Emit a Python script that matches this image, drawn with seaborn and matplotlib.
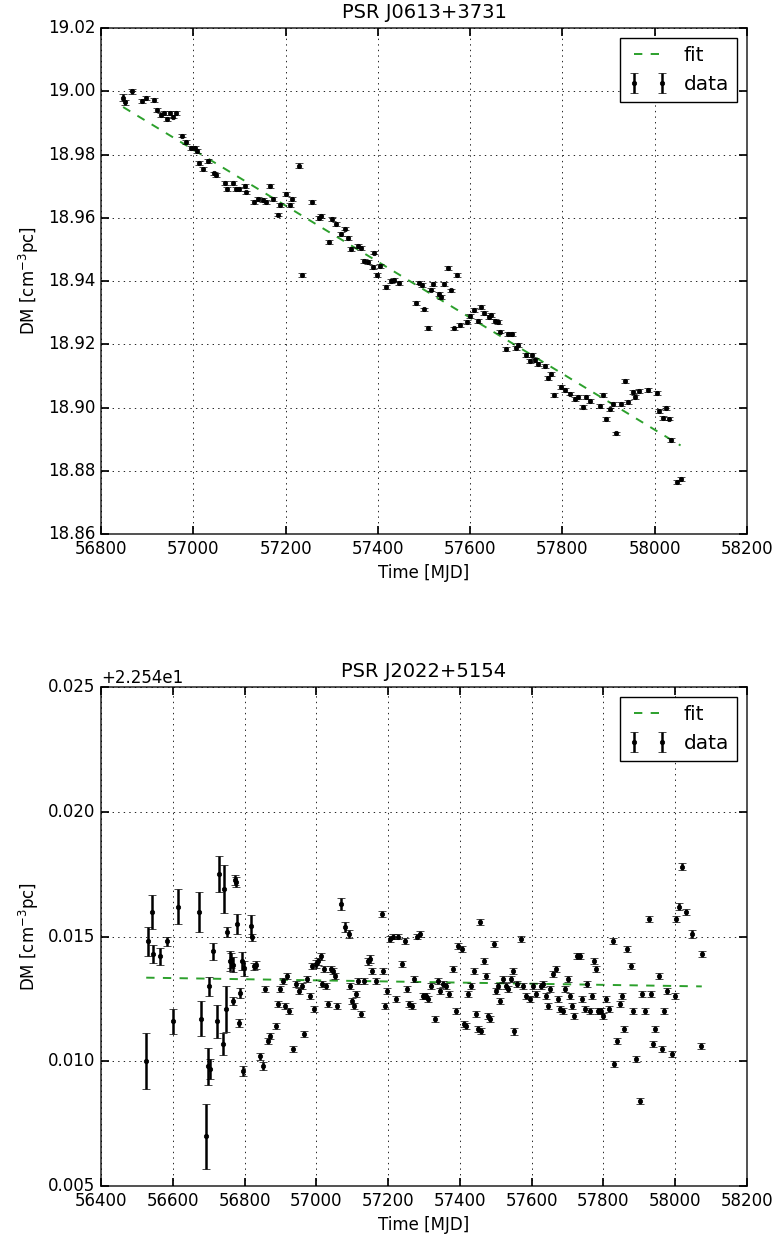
import matplotlib
matplotlib.use('Agg')
import matplotlib.pyplot as plt
import seaborn as sns

# ---------------- PSR J0613+3731 ----------------
top_title = "PSR J0613+3731"
top_mjd = [56848, 56852, 56868, 56888, 56898, 56915, 56922, 56930, 56937, 56944,
           56950, 56956, 56962, 56975, 56985, 56994, 57003, 57008, 57012, 57021,
           57031, 57045, 57050, 57069, 57074, 57085, 57093, 57100, 57111, 57115,
           57131, 57140, 57151, 57158, 57166, 57173, 57184, 57188, 57200, 57209,
           57215, 57230, 57236, 57258, 57272, 57277, 57294, 57301, 57310, 57321,
           57328, 57335, 57342, 57357, 57364, 57369, 57378, 57389, 57391, 57398,
           57404, 57418, 57429, 57436, 57445, 57482, 57489, 57496, 57501, 57508,
           57515, 57520, 57532, 57537, 57544, 57552, 57559, 57564, 57572, 57578,
           57593, 57600, 57609, 57616, 57623, 57629, 57640, 57645, 57654, 57661,
           57665, 57678, 57683, 57690, 57700, 57704, 57722, 57729, 57733, 57740,
           57747, 57762, 57769, 57776, 57781, 57796, 57805, 57817, 57827, 57834,
           57845, 57852, 57859, 57882, 57889, 57895, 57903, 57909, 57916, 57928,
           57936, 57943, 57952, 57958, 57966, 57985, 58004, 58009, 58017, 58024,
           58031, 58036, 58049, 58056]
top_dm = [18.9980, 18.9965, 19.0000, 18.9970, 18.9978, 18.9972, 18.9940, 18.9925, 18.9932, 18.9912,
          18.9930, 18.9920, 18.9930, 18.9860, 18.9840, 18.9820, 18.9822, 18.9810, 18.9773, 18.9755,
          18.9780, 18.9740, 18.9736, 18.9710, 18.9690, 18.9710, 18.9690, 18.9690, 18.9700, 18.9680,
          18.9650, 18.9660, 18.9656, 18.9650, 18.9700, 18.9660, 18.9610, 18.9640, 18.9676, 18.9640,
          18.9660, 18.9764, 18.9420, 18.9650, 18.9598, 18.9605, 18.9523, 18.9596, 18.9579, 18.9548,
          18.9566, 18.9537, 18.9500, 18.9510, 18.9505, 18.9464, 18.9460, 18.9445, 18.9490, 18.9420,
          18.9448, 18.9380, 18.9400, 18.9402, 18.9394, 18.9330, 18.9395, 18.9387, 18.9310, 18.9252,
          18.9373, 18.9390, 18.9360, 18.9349, 18.9390, 18.9440, 18.9370, 18.9250, 18.9420, 18.9260,
          18.9270, 18.9290, 18.9308, 18.9274, 18.9319, 18.9300, 18.9287, 18.9293, 18.9274, 18.9270,
          18.9240, 18.9186, 18.9233, 18.9233, 18.9188, 18.9197, 18.9167, 18.9148, 18.9165, 18.9150,
          18.9137, 18.9130, 18.9094, 18.9105, 18.9040, 18.9065, 18.9055, 18.9044, 18.9028, 18.9033,
          18.9001, 18.9033, 18.9020, 18.9005, 18.9040, 18.8964, 18.8994, 18.9010, 18.8918, 18.9010,
          18.9084, 18.9018, 18.9050, 18.9033, 18.9053, 18.9055, 18.9045, 18.8989, 18.8967, 18.8999,
          18.8965, 18.8897, 18.8765, 18.8774]
top_err = [0.0012, 0.0008, 0.0008, 0.0006, 0.0006, 0.0006, 0.0006, 0.0006, 0.0006, 0.0006,
           0.0006, 0.0006, 0.0006, 0.0006, 0.0006, 0.0006, 0.0006, 0.0006, 0.0006, 0.0006,
           0.0006, 0.0006, 0.0006, 0.0006, 0.0006, 0.0006, 0.0006, 0.0006, 0.0006, 0.0006,
           0.0006, 0.0006, 0.0006, 0.0006, 0.0006, 0.0006, 0.0006, 0.0006, 0.0006, 0.0006,
           0.0006, 0.0008, 0.0006, 0.0006, 0.0006, 0.0006, 0.0006, 0.0006, 0.0006, 0.0006,
           0.0006, 0.0006, 0.0006, 0.0006, 0.0006, 0.0006, 0.0006, 0.0006, 0.0006, 0.0006,
           0.0006, 0.0006, 0.0006, 0.0006, 0.0006, 0.0006, 0.0006, 0.0006, 0.0006, 0.0006,
           0.0006, 0.0006, 0.0006, 0.0006, 0.0006, 0.0006, 0.0006, 0.0006, 0.0006, 0.0006,
           0.0006, 0.0006, 0.0006, 0.0006, 0.0006, 0.0006, 0.0006, 0.0006, 0.0006, 0.0006,
           0.0006, 0.0006, 0.0006, 0.0006, 0.0006, 0.0006, 0.0006, 0.0006, 0.0006, 0.0006,
           0.0006, 0.0006, 0.0006, 0.0006, 0.0006, 0.0006, 0.0006, 0.0006, 0.0006, 0.0006,
           0.0006, 0.0006, 0.0006, 0.0006, 0.0006, 0.0006, 0.0006, 0.0006, 0.0006, 0.0006,
           0.0006, 0.0006, 0.0006, 0.0006, 0.0006, 0.0006, 0.0006, 0.0006, 0.0006, 0.0006,
           0.0006, 0.0006, 0.0006, 0.0006]
top_fit_mjd = [56848, 58056]
top_fit_dm = [18.9950, 18.8880]
top_xticks = [56800, 57000, 57200, 57400, 57600, 57800, 58000, 58200]
top_yticks = [18.86, 18.88, 18.90, 18.92, 18.94, 18.96, 18.98, 19.00, 19.02]

# ---------------- PSR J2022+5154 ----------------
bot_title = "PSR J2022+5154"
bot_offset = 22.54
bot_mjd = [56526, 56531, 56542, 56544, 56565, 56583, 56600, 56615, 56672, 56679,
           56693, 56697, 56700, 56704, 56713, 56723, 56730, 56739, 56744, 56748,
           56750, 56759, 56762, 56767, 56769, 56772, 56776, 56780, 56785, 56787,
           56794, 56797, 56799, 56818, 56822, 56827, 56831, 56843, 56852, 56857,
           56864, 56870, 56889, 56892,
           56900, 56906, 56912, 56918, 56925, 56935, 56944, 56952, 56960, 56966,
           56975, 56982, 56988, 56994, 57000, 57006, 57012, 57016, 57022, 57028,
           57033, 57040, 57046, 57052, 57058, 57070, 57080, 57090, 57094, 57100,
           57105, 57110, 57116, 57125, 57132, 57145, 57150, 57155, 57165, 57182,
           57186, 57190, 57198, 57205, 57214, 57222, 57228, 57240, 57246, 57252,
           57258, 57266, 57272, 57280, 57290, 57296, 57305, 57312, 57320, 57330,
           57338, 57345, 57352, 57360, 57370, 57380, 57388, 57396, 57405, 57412,
           57416, 57422, 57430, 57440, 57445, 57450, 57456, 57460, 57466, 57474,
           57478, 57485, 57495, 57500, 57505, 57512, 57520, 57528, 57535, 57542,
           57548, 57552, 57560, 57570, 57575, 57585, 57595, 57605, 57612, 57625,
           57632, 57640, 57646, 57652, 57660, 57668, 57673, 57680, 57686, 57692,
           57700, 57706, 57712, 57718, 57726, 57734, 57740, 57748, 57755, 57762,
           57768, 57773, 57778, 57785, 57792, 57800, 57808, 57815, 57826, 57829,
           57837, 57845, 57852, 57858, 57865, 57876, 57883, 57890, 57901, 57908,
           57915, 57926, 57932, 57938, 57945, 57954, 57963, 57970, 57978, 57990,
           57999, 58002, 58010, 58018, 58030, 58046, 58071, 58074]
bot_dm = [0.01000, 0.01480, 0.01600, 0.01430, 0.01420, 0.01480, 0.01160, 0.01620, 0.01600, 0.01170,
          0.00700, 0.00980, 0.01300, 0.00970, 0.01440, 0.01160, 0.01750, 0.01070, 0.01690, 0.01210,
          0.01520, 0.01400, 0.01404, 0.01240, 0.01387, 0.01727, 0.01720, 0.01550, 0.01153, 0.01273,
          0.01400, 0.00960, 0.01373, 0.01543, 0.01497, 0.01380, 0.01387, 0.01020, 0.00980, 0.01290,
          0.01080, 0.01100, 0.01143, 0.01230,
          0.01290, 0.01320, 0.01220, 0.01340, 0.01200, 0.01050, 0.01310, 0.01280, 0.01300, 0.01110,
          0.01330, 0.01260, 0.01380, 0.01210, 0.01390, 0.01400, 0.01420, 0.01310, 0.01370, 0.01300,
          0.01230, 0.01370, 0.01360, 0.01340, 0.01220, 0.01630, 0.01540, 0.01510, 0.01300, 0.01240,
          0.01220, 0.01270, 0.01320, 0.01190, 0.01320, 0.01400, 0.01410, 0.01360, 0.01320, 0.01590,
          0.01360, 0.01220, 0.01280, 0.01490, 0.01500, 0.01250, 0.01500, 0.01390, 0.01480, 0.01290,
          0.01230, 0.01220, 0.01330, 0.01500, 0.01510, 0.01260, 0.01260, 0.01250, 0.01300, 0.01170,
          0.01320, 0.01280, 0.01310, 0.01300, 0.01270, 0.01370, 0.01200, 0.01460, 0.01450, 0.01150,
          0.01140, 0.01270, 0.01300, 0.01360, 0.01190, 0.01130, 0.01560, 0.01120, 0.01400, 0.01340,
          0.01180, 0.01170, 0.01470, 0.01280, 0.01300, 0.01240, 0.01330, 0.01300, 0.01290, 0.01330,
          0.01360, 0.01120, 0.01310, 0.01490, 0.01300, 0.01260, 0.01250, 0.01300, 0.01270, 0.01300,
          0.01310, 0.01260, 0.01220, 0.01290, 0.01350, 0.01370, 0.01250, 0.01210, 0.01200, 0.01290,
          0.01330, 0.01260, 0.01220, 0.01180, 0.01420, 0.01420, 0.01250, 0.01210, 0.01310, 0.01200,
          0.01260, 0.01400, 0.01370, 0.01200, 0.01200, 0.01180, 0.01250, 0.01210, 0.01480, 0.00990,
          0.01080, 0.01230, 0.01260, 0.01130, 0.01450, 0.01380, 0.01200, 0.01010, 0.00840, 0.01270,
          0.01200, 0.01570, 0.01270, 0.01070, 0.01130, 0.01340, 0.01050, 0.01200, 0.01280, 0.01030,
          0.01260, 0.01570, 0.01620, 0.01780, 0.01600, 0.01510, 0.01060, 0.01430]
bot_err = [0.00113, 0.00060, 0.00068, 0.00037, 0.00033, 0.00020, 0.00050, 0.00070, 0.00080, 0.00070,
           0.00130, 0.00075, 0.00037, 0.00040, 0.00033, 0.00067, 0.00073, 0.00043, 0.00097, 0.00093,
           0.00020, 0.00040, 0.00030, 0.00016, 0.00030, 0.00020, 0.00020, 0.00040, 0.00016, 0.00020,
           0.00036, 0.00020, 0.00030, 0.00043, 0.00015, 0.00015, 0.00016, 0.00015, 0.00015, 0.00012,
           0.00012, 0.00012, 0.00012, 0.00012,
           0.00012, 0.00012, 0.00012, 0.00012, 0.00012, 0.00012, 0.00012, 0.00012, 0.00012, 0.00012,
           0.00012, 0.00012, 0.00012, 0.00012, 0.00015, 0.00015, 0.00015, 0.00012, 0.00012, 0.00012,
           0.00012, 0.00012, 0.00012, 0.00012, 0.00012, 0.00025, 0.00020, 0.00015, 0.00012, 0.00012,
           0.00012, 0.00012, 0.00012, 0.00012, 0.00012, 0.00015, 0.00015, 0.00012, 0.00012, 0.00012,
           0.00012, 0.00012, 0.00012, 0.00012, 0.00012, 0.00012, 0.00012, 0.00012, 0.00012, 0.00012,
           0.00012, 0.00012, 0.00012, 0.00012, 0.00012, 0.00012, 0.00012, 0.00012, 0.00012, 0.00012,
           0.00012, 0.00012, 0.00012, 0.00012, 0.00012, 0.00012, 0.00012, 0.00012, 0.00012, 0.00012,
           0.00012, 0.00012, 0.00012, 0.00012, 0.00012, 0.00012, 0.00012, 0.00012, 0.00012, 0.00012,
           0.00012, 0.00012, 0.00012, 0.00012, 0.00012, 0.00012, 0.00012, 0.00012, 0.00012, 0.00012,
           0.00012, 0.00015, 0.00012, 0.00012, 0.00012, 0.00012, 0.00012, 0.00012, 0.00012, 0.00012,
           0.00012, 0.00012, 0.00012, 0.00012, 0.00012, 0.00012, 0.00012, 0.00012, 0.00012, 0.00012,
           0.00012, 0.00012, 0.00012, 0.00012, 0.00012, 0.00012, 0.00012, 0.00012, 0.00012, 0.00012,
           0.00012, 0.00012, 0.00012, 0.00012, 0.00012, 0.00012, 0.00012, 0.00012, 0.00012, 0.00012,
           0.00012, 0.00012, 0.00012, 0.00012, 0.00012, 0.00012, 0.00012, 0.00012, 0.00012, 0.00012,
           0.00012, 0.00012, 0.00012, 0.00012, 0.00012, 0.00012, 0.00012, 0.00012, 0.00012, 0.00012,
           0.00012, 0.00012, 0.00015, 0.00015, 0.00012, 0.00015, 0.00012, 0.00012]
bot_fit_mjd = [56526, 58074]
bot_fit_dm = [0.01335, 0.01300]
bot_xticks = [56400, 56600, 56800, 57000, 57200, 57400, 57600, 57800, 58000, 58200]
bot_yticks = [0.005, 0.010, 0.015, 0.020, 0.025]

x_label = "Time [MJD]"
y_label = "DM [cm$^{-3}$pc]"

# ---------------- style ----------------
plt.style.use('classic')
sns.set_context("notebook", rc={})
plt.rcParams.update({
    'font.family': ['DejaVu Sans'],
    'mathtext.fontset': 'dejavusans',
    'font.size': 12,
    'figure.facecolor': 'white',
    'savefig.facecolor': 'white',
    'axes.linewidth': 1.2,
    'axes.edgecolor': '#333333',
    'xtick.labelsize': 12,
    'ytick.labelsize': 12,
    'axes.labelsize': 12,
    'axes.titlesize': 14,
    'legend.fontsize': 14.4,
    'grid.linestyle': ':',
    'grid.color': 'k',
    'grid.linewidth': 0.6,
})

fig = plt.figure(figsize=(7.78, 12.4), dpi=100)
ax1 = fig.add_axes([101 / 778, 1 - 534 / 1240, 646 / 778, 506 / 1240])
ax2 = fig.add_axes([101 / 778, 1 - 1186 / 1240, 646 / 778, 499 / 1240])

fit_color = '#2ca02c'


def draw(ax, mjd, dm, err, fit_x, fit_y, title, xticks, yticks):
    sns.lineplot(x=fit_x, y=fit_y, ax=ax, color=fit_color, linestyle='--',
                 linewidth=1.4, label='fit', dashes=False)
    ax.lines[-1].set_dashes([6, 6])
    ax.errorbar(mjd, dm, yerr=err, fmt='o', color='k', markersize=3.2,
                markeredgewidth=0.5, elinewidth=1.8, capsize=2.8, capthick=1.3,
                label='data')
    ax.set_xlim(xticks[0], xticks[-1])
    ax.set_ylim(yticks[0], yticks[-1])
    ax.set_xticks(xticks)
    ax.set_yticks(yticks)
    ax.grid(True)
    ax.set_axisbelow(False)
    ax.set_title(title, pad=7)
    ax.set_xlabel(x_label)
    ax.set_ylabel(y_label)
    leg = ax.legend(loc='upper right', numpoints=2, fancybox=False, framealpha=1,
                    borderaxespad=0.5)
    leg.get_frame().set_edgecolor('k')


draw(ax1, top_mjd, top_dm, top_err, top_fit_mjd, top_fit_dm, top_title,
     top_xticks, top_yticks)

bot_vals = [bot_offset + v for v in bot_dm]
bot_fit_vals = [bot_offset + v for v in bot_fit_dm]
bot_ytick_vals = [bot_offset + v for v in bot_yticks]
draw(ax2, bot_mjd, bot_vals, bot_err, bot_fit_mjd, bot_fit_vals, bot_title,
     bot_xticks, bot_ytick_vals)
ax2.yaxis.get_major_formatter().set_useOffset(bot_offset)
ax1.yaxis.get_major_formatter().set_useOffset(False)

fig.savefig('out.png', dpi=100)
